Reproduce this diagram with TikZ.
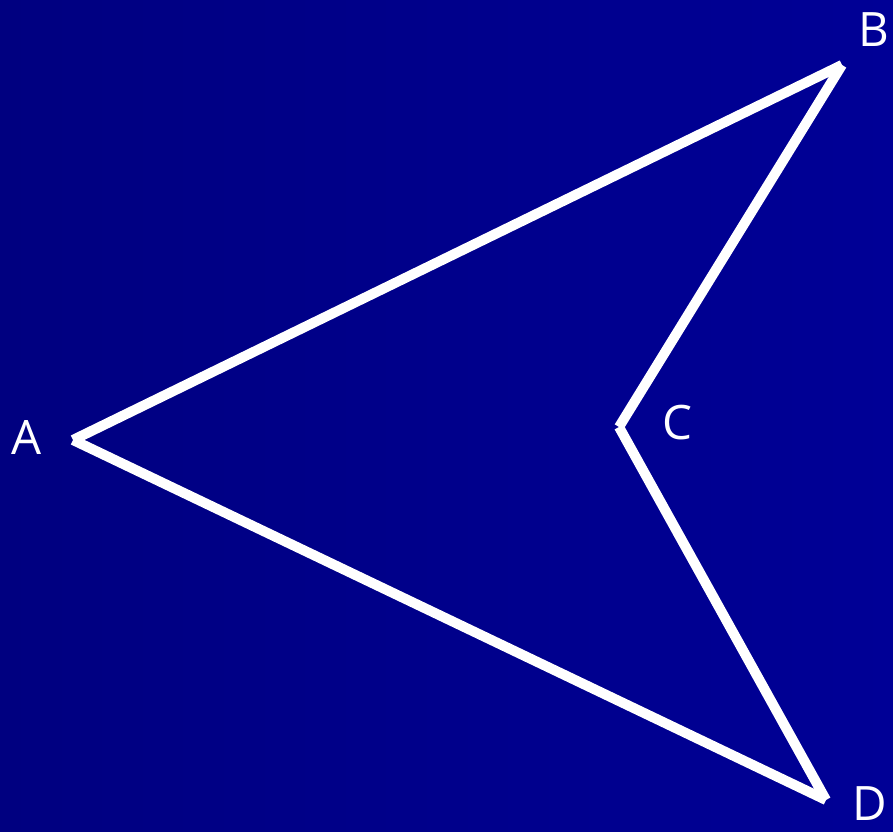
\documentclass[tikz,border=0pt]{standalone}
\usepackage{fontspec}
\setmainfont{Open Sans}
\usepackage{tikz}
\usetikzlibrary{positioning}
\definecolor{bgleft}{RGB}{0,0,128}
\definecolor{bgright}{RGB}{0,0,150}
\tikzstyle{edge} = [
    line width=5.7pt,
    draw=white,
    line cap=butt
]
\tikzstyle{vlabel} = [
    text=white,
    font=\fontsize{27}{30}\selectfont,
    inner sep=0pt
]

\begin{document}
\begin{tikzpicture}
        % Background
        \useasboundingbox (0,0) rectangle (17.86,16.64);
        \clip (0,0) rectangle (17.86,16.64);
        \shade[left color=bgleft, right color=bgright] (0,0) rectangle (17.86,16.64);

        % Vertices
        \coordinate (A) at (1.46,7.84);
        \coordinate (B) at (16.84,15.34);
        \coordinate (C) at (12.38,8.10);
        \coordinate (D) at (16.52,0.64);

        % Sides
        \draw[edge] (A) -- (B);
        \draw[edge] (B) -- (C);
        \draw[edge] (C) -- (D);
        \draw[edge] (D) -- (A);

        % Labels
        \node[vlabel] (labA) at (0.54,7.88) {A};
        \node[vlabel] (labB) at (17.48,16.04) {B};
        \node[vlabel] (labC) at (13.54,8.18) {C};
        \node[vlabel] (labD) at (17.40,0.56) {D};
    \end{tikzpicture}
\end{document}
